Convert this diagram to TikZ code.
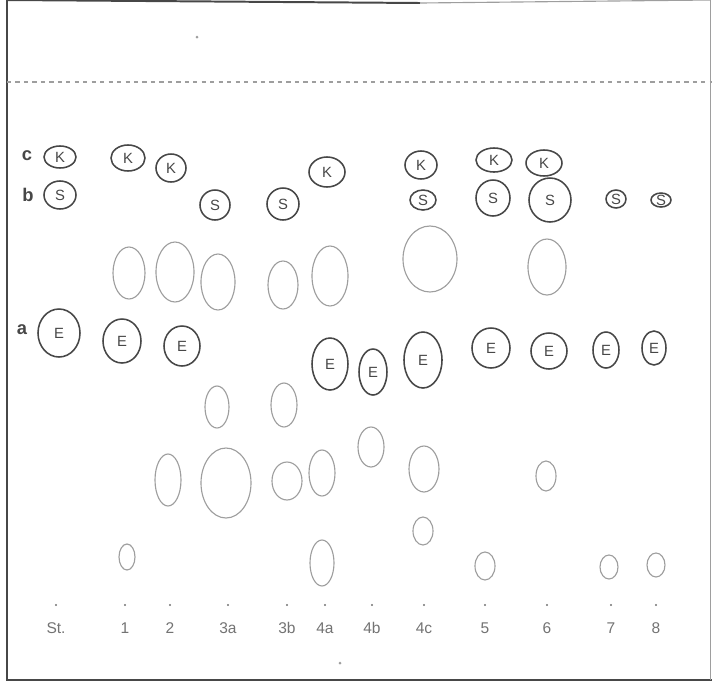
\documentclass[tikz,border=0pt]{standalone}
\usepackage{fontspec}
\setmainfont{Liberation Sans}
\definecolor{ink}{gray}{0.28}
\definecolor{faintgray}{gray}{0.62}
\definecolor{labelgray}{gray}{0.45}
\begin{document}
\begin{tikzpicture}[x=0.7087pt,y=-0.7087pt,
  spot/.style={draw=ink,line width=1.1pt},
  faint/.style={draw=faintgray,line width=0.8pt},
  letter/.style={font=\fontsize{10.5}{10.5}\selectfont,text=ink,inner sep=0pt},
  lane/.style={font=\fontsize{11}{11}\selectfont,text=labelgray},
  rowlabel/.style={font=\fontsize{13}{13}\selectfont\bfseries,text=ink}]
  \useasboundingbox (0,0) rectangle (712,689);
  % plate frame
  \coordinate (TL) at (7,0);
  \coordinate (BL) at (7,680);
  \coordinate (BR) at (712,680);
  \coordinate (TR) at (710,0);
  \coordinate (front) at (7,82);
  \coordinate (frontend) at (712,82);
  \draw[ink,line width=1.4pt] (TL) -- (BL) -- (BR);
  \draw[faintgray,line width=0.6pt] (TR) -- (710,680);
  \draw[ink,line width=1.4pt] (TL) -- (420,3);
  \draw[faintgray,line width=0.8pt] (420,3) -- (TR);
  \draw[faintgray,dashed,line width=0.8pt] (front) -- (frontend);
  \fill[faintgray] (197,37) circle (1.5);
  \fill[faintgray] (340,663) circle (1.5);
  % row labels
  \node[rowlabel] (rc) at (27,156) {c};
  \node[rowlabel] (rb) at (28,195) {b};
  \node[rowlabel] (ra) at (22,330) {a};
  % spots K
  \foreach \x/\y/\a/\b [count=\i] in {60/157/16/11,128/158/17/13,171/168/15/14,327/172/18/15,
      421/165/16/14,494/160/18/12,544/163/18/13} {
    \draw[spot] (\x,\y) ellipse [x radius=\a, y radius=\b];
    \node[letter] (k\i) at (\x,\y) {K};
  }
  % spots S
  \foreach \x/\y/\a/\b [count=\i] in {60/195/16/14,215/205/15/15,283/204/16/16,423/200/13/10,
      493/198/17/18,550/200/21/22,616/199/10/9,661/200/10/7} {
    \draw[spot] (\x,\y) ellipse [x radius=\a, y radius=\b];
    \node[letter] (s\i) at (\x,\y) {S};
  }
  % spots E
  \foreach \x/\y/\a/\b [count=\i] in {59/333/21/24,122/341/19/22,182/346/18/20,330/364/18/26,
      373/372/14/23,423/360/19/28,491/348/19/20,549/351/18/18,606/350/13/18,654/348/12/17} {
    \draw[spot] (\x,\y) ellipse [x radius=\a, y radius=\b];
    \node[letter] (e\i) at (\x,\y) {E};
  }
  % unmarked spots
  \foreach \x/\y/\a/\b in {129/273/16/26,175/272/19/30,218/282/17/28,283/285/15/24,330/276/18/30,
      430/259/27/33,547/267/19/28,
      217/407/12/21,284/405/13/22,371/447/13/20,
      168/480/13/26,226/483/25/35,287/481/15/19,322/473/13/23,424/469/15/23,546/476/10/15,
      423/531/10/14,
      127/557/8/13,322/563/12/23,485/566/10/14,609/567/9/12,656/565/9/12} {
    \draw[faint] (\x,\y) ellipse [x radius=\a, y radius=\b];
  }
  % start points and lane labels
  \foreach \x/\t [count=\i] in {56/St.,125/1,170/2,228/3a,287/3b,325/4a,372/4b,424/4c,
      485/5,547/6,611/7,656/8} {
    \fill[labelgray] (\x,605) circle (1.2);
    \node[lane] (lane\i) at (\x,628) {\t};
  }
\end{tikzpicture}
\end{document}
